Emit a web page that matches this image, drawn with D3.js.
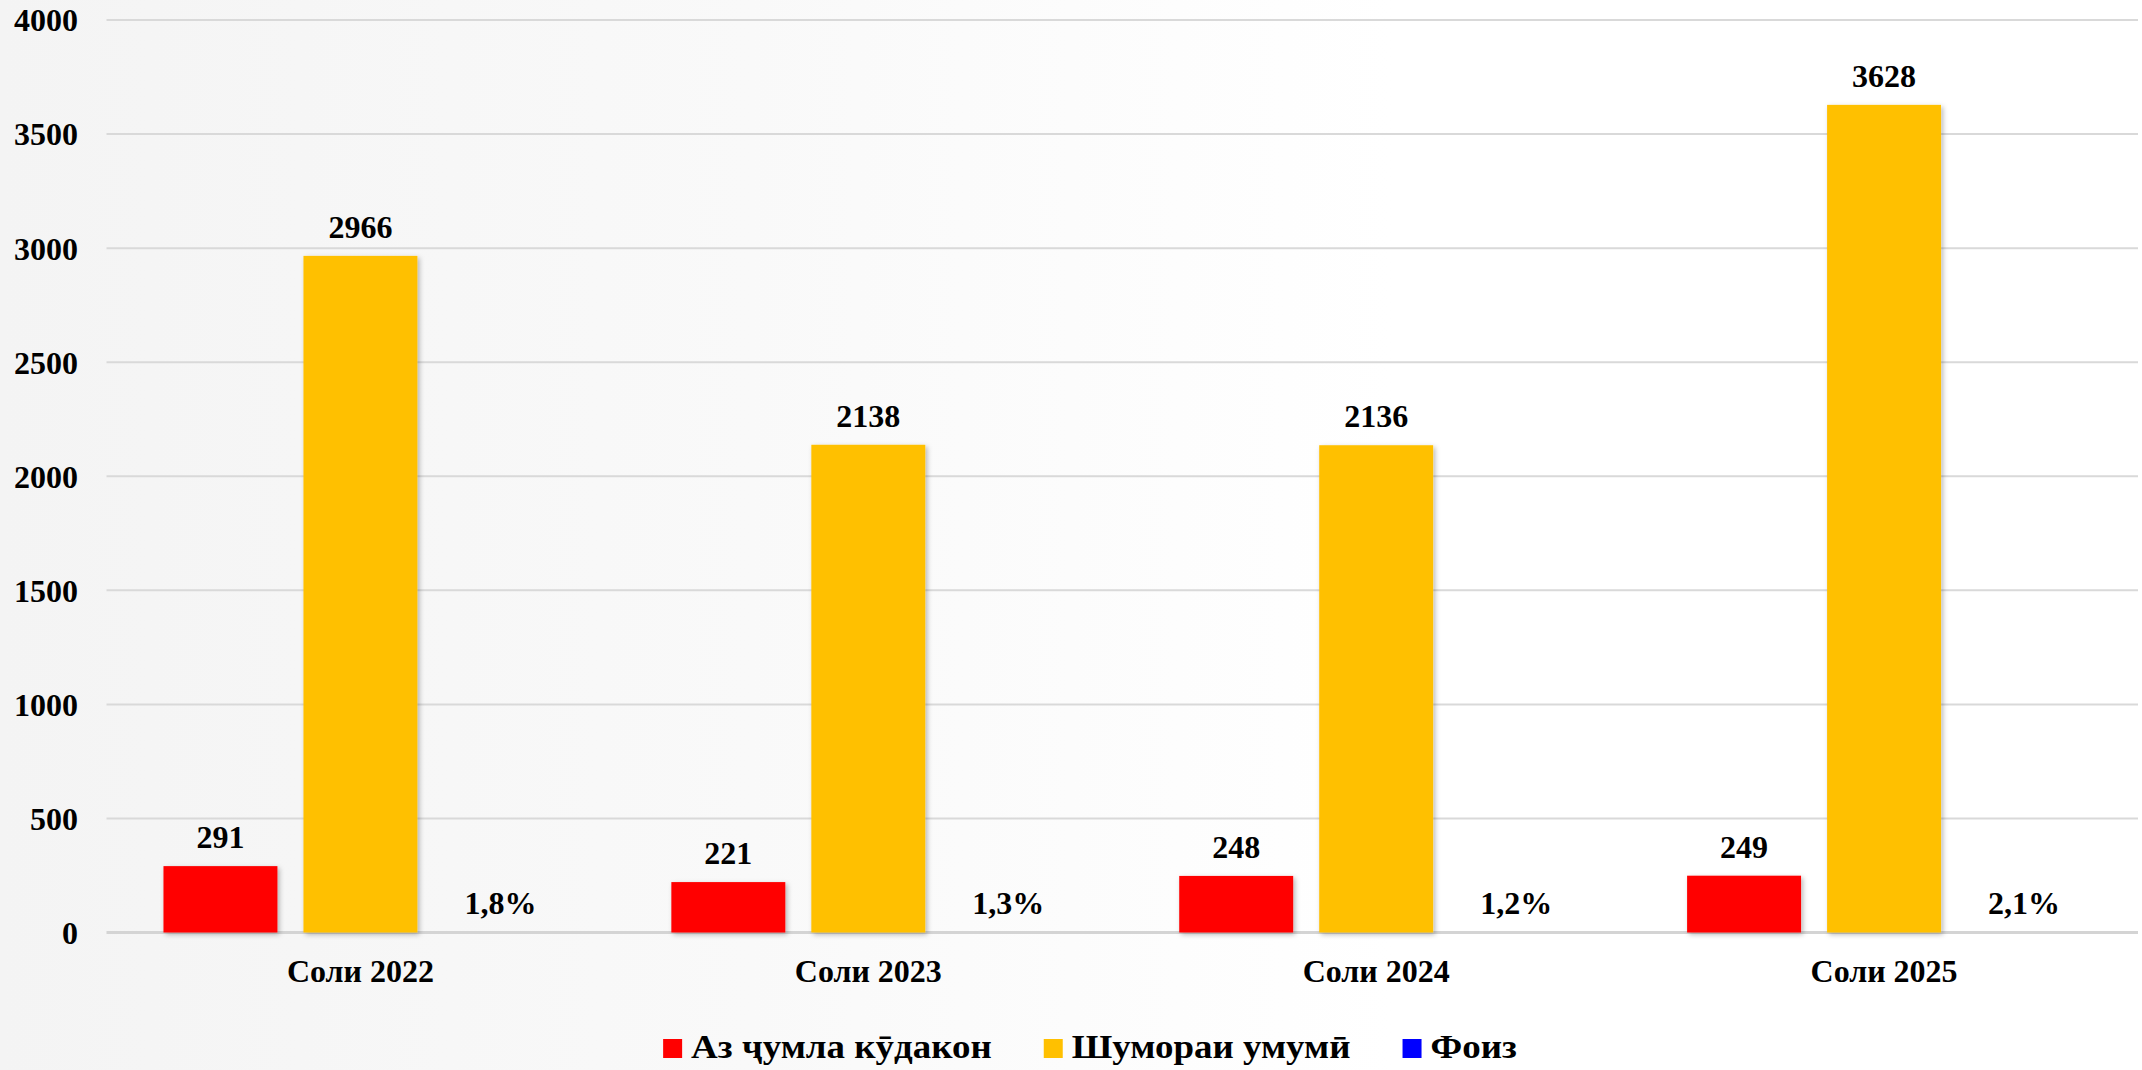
<!DOCTYPE html>
<html>
<head>
<meta charset="utf-8">
<script src="https://cdn.jsdelivr.net/npm/d3@7"></script>
<style>
  html, body { margin: 0; padding: 0; background: #fff; }
  svg { display: block; }
  text { font-family: 'Liberation Serif', 'Times New Roman', serif; font-weight: bold; fill: #000; }
</style>
</head>
<body>
<svg id="chart" width="2142" height="1070"></svg>
<script>
// ---- Data ----
const categories = ["Соли 2022", "Соли 2023", "Соли 2024", "Соли 2025"];
const seriesNames = ["Аз ҷумла кӯдакон", "Шумораи умумӣ", "Фоиз"];
const childrenValues = [291, 221, 248, 249];
const totalValues = [2966, 2138, 2136, 3628];
const percentValues = [1.8, 1.3, 1.2, 2.1];
const percentLabels = ["1,8%", "1,3%", "1,2%", "2,1%"];
const yTicks = [0, 500, 1000, 1500, 2000, 2500, 3000, 3500, 4000];
const seriesColors = ["#ff0000", "#ffc000", "#0000ff"];

// ---- Layout ----
const W = 2142, H = 1070;
const plotLeft = 106.5, plotRight = 2138, plotTop = 20, plotBottom = 932.5;

const svg = d3.select("#chart");
const defs = svg.append("defs");
const grad = defs.append("linearGradient").attr("id", "bg").attr("x1", "0").attr("x2", "1").attr("y1", "0").attr("y2", "0");
grad.append("stop").attr("offset", "0%").attr("stop-color", "#f4f4f4");
grad.append("stop").attr("offset", "35%").attr("stop-color", "#f9f9f9");
grad.append("stop").attr("offset", "65%").attr("stop-color", "#ffffff");
grad.append("stop").attr("offset", "100%").attr("stop-color", "#ffffff");
const f = defs.append("filter").attr("id", "shadow").attr("x", "-20%").attr("y", "-20%").attr("width", "140%").attr("height", "140%");
f.append("feDropShadow").attr("dx", 2).attr("dy", 2).attr("stdDeviation", 2.5)
  .attr("flood-color", "#000").attr("flood-opacity", 0.28);

svg.append("rect").attr("width", W).attr("height", H).attr("fill", "url(#bg)");

const x0 = d3.scaleBand().domain(categories).range([plotLeft, plotRight]).padding(0);
const x1 = d3.scaleBand().domain(d3.range(3)).range([0, x0.bandwidth()]).paddingInner(0.186).paddingOuter(0.407);
const y = d3.scaleLinear().domain([0, 4000]).range([plotBottom, plotTop]);

// gridlines
const grid = svg.append("g");
grid.selectAll("line").data(yTicks).join("line")
  .attr("x1", plotLeft).attr("x2", plotRight)
  .attr("y1", d => y(d)).attr("y2", d => y(d))
  .attr("stroke", d => d === 0 ? "#d4d4d4" : "#d9d9d9")
  .attr("stroke-width", d => d === 0 ? 3 : 2);

// y-axis labels
const yAxis = d3.axisLeft(y).tickValues(yTicks).tickSize(0).tickPadding(0).tickFormat(d3.format("d"));
const ya = svg.append("g").attr("transform", `translate(78,0)`).call(yAxis);
ya.select(".domain").remove();
ya.selectAll("text").attr("font-size", 32).attr("font-family", "'Liberation Serif', 'Times New Roman', serif")
  .attr("font-weight", "bold").attr("fill", "#000").attr("x", 0).attr("dy", "0.34em");

// x-axis labels
const xAxis = d3.axisBottom(x0).tickSize(0).tickPadding(0);
const xa = svg.append("g").attr("transform", `translate(0,${plotBottom})`).call(xAxis);
xa.select(".domain").remove();
xa.selectAll("text").attr("font-size", 32).attr("font-family", "'Liberation Serif', 'Times New Roman', serif")
  .attr("font-weight", "bold").attr("fill", "#000").attr("y", 49).attr("dy", 0);

// bars
const seriesData = [childrenValues, totalValues, percentValues];
const seriesLabels = [childrenValues.map(String), totalValues.map(String), percentLabels];

const barsG = svg.append("g");
seriesData.forEach((vals, si) => {
  const g = barsG.append("g");
  g.selectAll("rect").data(vals).join("rect")
    .attr("x", (d, i) => x0(categories[i]) + x1(si))
    .attr("width", x1.bandwidth())
    .attr("y", d => y(d))
    .attr("height", d => plotBottom - y(d))
    .attr("fill", seriesColors[si])
    .attr("filter", si < 2 ? "url(#shadow)" : null)
    .attr("opacity", si === 2 ? 0 : 1);
});

// labels
const labG = svg.append("g");
seriesData.forEach((vals, si) => {
  labG.append("g").selectAll("text").data(vals).join("text")
    .attr("x", (d, i) => x0(categories[i]) + x1(si) + x1.bandwidth() / 2)
    .attr("y", d => y(d) - 18)
    .attr("text-anchor", "middle")
    .attr("font-size", 32)
    .text((d, i) => seriesLabels[si][i]);
});

// legend
const leg = svg.append("g");
const sx = 1.12;
const items = seriesNames.map((name, i) => {
  const g = leg.append("g");
  g.append("rect").attr("width", 19).attr("height", 19).attr("y", -19).attr("fill", seriesColors[i]);
  const t = g.append("text").attr("transform", `translate(28,0) scale(${sx},1)`).attr("font-size", 33).text(name);
  return { g, w: 28 + t.node().getComputedTextLength() * sx };
});
const gap = 52;
const total = d3.sum(items, d => d.w) + gap * (items.length - 1);
let cx = 1090 - total / 2;
items.forEach(it => { it.g.attr("transform", `translate(${cx},1058)`); cx += it.w + gap; });
</script>
</body>
</html>
